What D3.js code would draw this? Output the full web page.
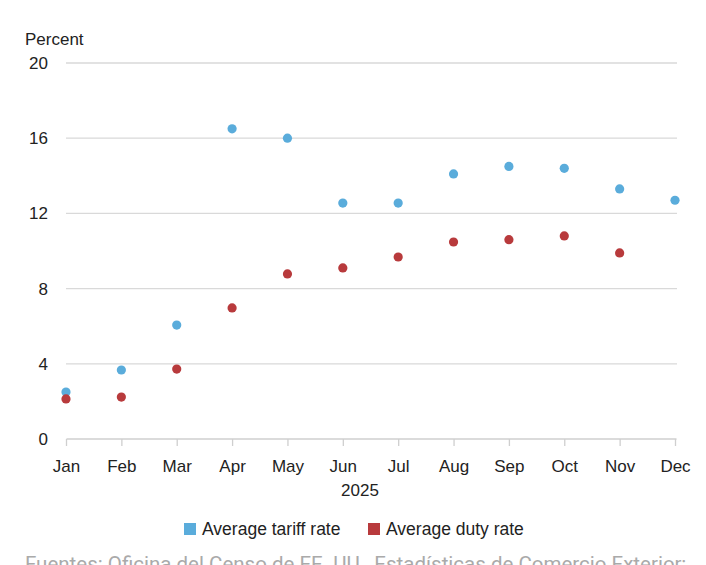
<!DOCTYPE html>
<html><head><meta charset="utf-8">
<script src="https://cdn.jsdelivr.net/npm/d3@7"></script>
<style>body{margin:0;background:#fff;} svg{display:block;}</style>
</head><body>
<svg id="c" width="706" height="565"></svg>
<script>
const months = ["Jan","Feb","Mar","Apr","May","Jun","Jul","Aug","Sep","Oct","Nov","Dec"];
const tariffRate = [2.5, 3.67, 6.06, 16.5, 16.0, 12.55, 12.55, 14.1, 14.5, 14.4, 13.3, 12.7];
const dutyRate = [2.13, 2.23, 3.72, 6.97, 8.78, 9.1, 9.68, 10.48, 10.6, 10.8, 9.9, null];
const yTicks = [0, 4, 8, 12, 16, 20];
const seriesNames = ["Average tariff rate", "Average duty rate"];
const seriesColors = ["#5aacdb", "#b83a3c"];

const svg = d3.select("#c");
const font = "'Liberation Sans', Arial, sans-serif";
const fs = 17;
const x = d3.scalePoint().domain(months).range([66, 675]);
const y = d3.scaleLinear().domain([0, 20]).range([439, 63]);

// gridlines
svg.append("g").selectAll("line").data(yTicks.filter(d => d > 0)).join("line")
  .attr("x1", 66).attr("x2", 677).attr("y1", d => y(d)).attr("y2", d => y(d))
  .attr("stroke", "#d9d9d9").attr("stroke-width", 1.3);

// y labels
svg.append("g").selectAll("text").data(yTicks).join("text")
  .attr("x", 48).attr("y", d => y(d) + 6).attr("text-anchor", "end")
  .attr("font-family", font).attr("font-size", fs).attr("fill", "#222").text(d => d);

svg.append("text").attr("x", 25).attr("y", 45).attr("font-family", font)
  .attr("font-size", fs).attr("fill", "#222").text("Percent");

// x axis
const xAxis = d3.axisBottom(x).tickSize(7);
const gx = svg.append("g").attr("transform", "translate(0,439)").call(xAxis);
gx.select(".domain").attr("stroke", "#cfcfcf").attr("stroke-width", 1.3).attr("d", "M66.5,0H676.5");
gx.selectAll(".tick line").attr("stroke", "#cfcfcf").attr("stroke-width", 1.3);
gx.selectAll(".tick text").attr("font-family", font).attr("font-size", fs).attr("fill", "#222")
  .attr("y", 33).attr("dy", 0);

svg.append("text").attr("x", 360).attr("y", 496).attr("text-anchor", "middle")
  .attr("font-family", font).attr("font-size", fs).attr("fill", "#222").text("2025");

// dots
[tariffRate, dutyRate].forEach((arr, i) => {
  svg.append("g").selectAll("circle")
    .data(months.map((m, j) => ({m, v: arr[j]})).filter(d => d.v != null))
    .join("circle")
    .attr("cx", d => x(d.m)).attr("cy", d => y(d.v)).attr("r", 4.6)
    .attr("fill", seriesColors[i]);
});

// legend
const legendX = [184, 368];
seriesNames.forEach((n, i) => {
  svg.append("rect").attr("x", legendX[i]).attr("y", 523).attr("width", 12).attr("height", 12)
    .attr("fill", seriesColors[i]);
  svg.append("text").attr("x", legendX[i] + 18).attr("y", 535)
    .attr("font-family", font).attr("font-size", 17.5).attr("fill", "#222").text(n);
});

// source (cut off at the bottom edge, as in the reference)
svg.append("text").attr("x", 25).attr("y", 571)
  .attr("font-family", "Roboto, sans-serif").attr("font-size", 20.5).attr("fill", "#aaa")
  .text("Fuentes: Oficina del Censo de EE. UU., Estadísticas de Comercio Exterior;");
</script>
</body></html>
